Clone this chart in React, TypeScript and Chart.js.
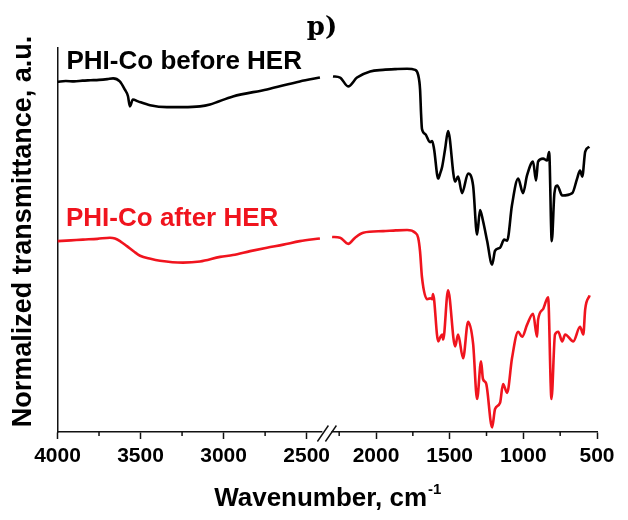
import { useEffect, useRef } from 'react';
import { Chart, registerables } from 'chart.js';

Chart.register(...registerables);

// Axis break: 4000–2375 cm-1 on the left segment, 2330–500 cm-1 on the right
const highRange = [2375, 4000];
const lowRange = [500, 2330];
const highTicks = [4000, 3500, 3000, 2500];
const lowTicks = [2000, 1500, 1000, 500];
const highMinorTicks = [3750, 3250, 2750];
const lowMinorTicks = [2250, 1750, 1250, 750];

// PHI-Co before HER (offset spectrum, a.u.)
const beforeHighWn = [4000, 3950, 3900, 3850, 3800, 3750, 3700, 3665, 3625, 3595, 3576, 3564, 3546, 3515, 3443, 3341, 3245, 3142, 3082, 2944, 2739, 2541, 2420];
const beforeHighT = [91.2, 91.4, 91.3, 91.5, 91.6, 91.7, 91.9, 92.1, 91.3, 89.2, 87.5, 84.8, 86.6, 86.1, 85.1, 84.6, 84.6, 84.8, 85.3, 87.4, 89.2, 91.3, 92.3];
const beforeLowWn = [2292, 2244, 2189, 2129, 2040, 1952, 1865, 1789, 1734, 1714, 1701, 1694, 1688, 1666, 1633, 1619, 1606, 1578, 1565, 1551, 1531, 1511, 1463, 1443, 1416, 1375, 1341, 1314, 1294, 1274, 1246, 1212, 1192, 1158, 1130, 1110, 1077, 1035, 1002, 975, 934, 914, 900, 866, 839, 825, 807, 789, 770, 736, 668, 635, 615, 600, 580, 552];
const beforeLowT = [92.6, 92.3, 90.0, 92.3, 93.9, 94.3, 94.5, 94.6, 94.3, 93.0, 89.2, 82.7, 78.9, 77.6, 75.5, 75.8, 73.7, 66.0, 67.3, 69.1, 73.7, 78.4, 65.2, 66.5, 62.2, 67.3, 64.2, 51.4, 57.8, 55.0, 49.8, 43.6, 47.2, 48.0, 50.1, 49.8, 59.1, 66.0, 62.2, 66.8, 70.4, 65.5, 70.4, 71.2, 70.7, 72.9, 49.7, 62.2, 64.2, 61.6, 62.2, 66.0, 68.1, 66.5, 73.0, 74.3];

// PHI-Co after HER (offset spectrum, a.u.)
const afterHighWn = [4000, 3920, 3847, 3760, 3684, 3654, 3620, 3582, 3540, 3503, 3440, 3383, 3245, 3142, 3021, 2944, 2840, 2739, 2640, 2541, 2420];
const afterHighT = [49.7, 49.9, 50.1, 50.3, 50.6, 50.4, 49.6, 48.4, 47.0, 45.9, 45.1, 44.6, 44.1, 44.4, 45.6, 46.1, 47.1, 48.0, 48.8, 49.7, 50.4];
const afterLowWn = [2298, 2244, 2189, 2142, 2087, 1952, 1865, 1789, 1734, 1714, 1701, 1688, 1653, 1632, 1619, 1613, 1578, 1566, 1551, 1544, 1511, 1463, 1443, 1409, 1375, 1341, 1314, 1287, 1274, 1253, 1212, 1192, 1158, 1138, 1110, 1077, 1035, 1008, 975, 934, 907, 900, 866, 832, 809, 785, 763, 736, 716, 661, 615, 593, 580, 550];
const afterLowT = [50.8, 50.6, 49.0, 50.6, 51.9, 52.3, 52.5, 52.6, 51.9, 50.6, 47.0, 40.3, 34.6, 34.8, 34.6, 35.9, 23.6, 24.5, 25.4, 24.1, 36.9, 22.3, 25.4, 19.2, 28.7, 23.0, 8.6, 18.4, 13.8, 12.7, 1.2, 6.0, 7.6, 12.5, 10.2, 19.2, 26.1, 24.8, 27.9, 30.8, 24.8, 29.2, 32.0, 35.1, 8.6, 25.4, 26.1, 23.6, 25.4, 23.6, 27.4, 25.4, 32.0, 35.6];

const BLACK = '#000000';
const RED = '#f0141e';
const SANS = "'Liberation Sans', Arial, sans-serif";

const toPoints = (wn: number[], t: number[]) => wn.map((w, i) => ({ x: w, y: t[i] }));

const lineSet = (wn: number[], t: number[], color: string, xAxisID: string) => ({
  data: toPoints(wn, t),
  borderColor: color,
  backgroundColor: color,
  borderWidth: 2.6,
  pointRadius: 0,
  cubicInterpolationMode: 'monotone',
  xAxisID,
  yAxisID: 'y',
});

const annotations = {
  id: 'annotations',
  afterDraw(chart: any) {
    const { ctx, chartArea } = chart;
    const xHigh = chart.scales.xHigh;
    const xLow = chart.scales.xLow;
    const axisY = chartArea.bottom;
    ctx.save();

    // minor tick marks
    ctx.strokeStyle = '#111';
    ctx.lineWidth = 1.5;
    ctx.beginPath();
    highMinorTicks.forEach((v) => {
      const px = xHigh.getPixelForValue(v);
      ctx.moveTo(px, axisY);
      ctx.lineTo(px, axisY + 4);
    });
    lowMinorTicks.forEach((v) => {
      const px = xLow.getPixelForValue(v);
      ctx.moveTo(px, axisY);
      ctx.lineTo(px, axisY + 4);
    });
    ctx.stroke();

    // axis break "//"
    const bx = xHigh.right;
    ctx.fillStyle = '#ffffff';
    ctx.fillRect(bx - 5, axisY - 2, 9, 4);
    ctx.beginPath();
    ctx.lineWidth = 1.4;
    ctx.moveTo(bx - 10, axisY + 9.5);
    ctx.lineTo(bx + 1, axisY - 6.5);
    ctx.moveTo(bx - 2, axisY + 9.5);
    ctx.lineTo(bx + 9, axisY - 6.5);
    ctx.stroke();

    // panel label
    ctx.fillStyle = '#000';
    ctx.textAlign = 'center';
    ctx.textBaseline = 'alphabetic';
    ctx.font = "bold 26px 'DejaVu Serif', serif";
    ctx.fillText('p)', 322, 35);

    // series labels
    ctx.textAlign = 'left';
    ctx.font = `bold 26px ${SANS}`;
    ctx.fillStyle = BLACK;
    ctx.fillText('PHI-Co before HER', 66.5, 69);
    ctx.fillStyle = RED;
    ctx.fillText('PHI-Co after HER', 66, 226);

    // x axis title with superscript
    ctx.fillStyle = '#000';
    const main = 'Wavenumber, cm';
    const sup = '-1';
    ctx.font = `bold 26px ${SANS}`;
    const wMain = ctx.measureText(main).width;
    ctx.font = `bold 15px ${SANS}`;
    const wSup = ctx.measureText(sup).width;
    const cx = (chartArea.left + chartArea.right) / 2;
    const startX = cx - (wMain + wSup) / 2;
    ctx.font = `bold 26px ${SANS}`;
    ctx.fillText(main, startX, 506);
    ctx.font = `bold 15px ${SANS}`;
    ctx.fillText(sup, startX + wMain + 1, 494);

    // y axis title
    ctx.translate(31, 231.5);
    ctx.rotate(-Math.PI / 2);
    ctx.textAlign = 'center';
    ctx.font = `bold 27px ${SANS}`;
    ctx.fillText('Normalized transmittance, a.u.', 0, 0);

    ctx.restore();
  },
};

const xAxis = (range: number[], ticks: number[], weight: number, stackWeight: number) => ({
  type: 'linear',
  position: 'bottom',
  stack: 'wavenumber',
  stackWeight,
  weight,
  reverse: true,
  min: range[0],
  max: range[1],
  afterBuildTicks: (scale: any) => {
    scale.ticks = ticks.map((v) => ({ value: v }));
  },
  grid: {
    display: true,
    drawOnChartArea: false,
    drawTicks: true,
    tickLength: 7,
    tickWidth: 1.5,
    tickColor: '#111',
  },
  border: { display: true, color: '#111', width: 1.5 },
  ticks: {
    padding: 5,
    color: '#000',
    maxRotation: 0,
    autoSkip: false,
    font: { family: SANS, size: 21, weight: 'bold' },
    callback: (v: any) => String(v),
  },
});

export default function App() {
  const canvasRef = useRef<HTMLCanvasElement | null>(null);

  useEffect(() => {
    if (!canvasRef.current) return;
    const chart = new Chart(canvasRef.current, {
      type: 'line',
      data: {
        datasets: [
          lineSet(beforeHighWn, beforeHighT, BLACK, 'xHigh'),
          lineSet(beforeLowWn, beforeLowT, BLACK, 'xLow'),
          lineSet(afterHighWn, afterHighT, RED, 'xHigh'),
          lineSet(afterLowWn, afterLowT, RED, 'xLow'),
        ],
      } as any,
      options: {
        responsive: false,
        animation: false,
        devicePixelRatio: 1,
        layout: { padding: { top: 48, left: 57.5, right: 31, bottom: 45.8 } },
        plugins: {
          legend: { display: false },
          tooltip: { enabled: false },
          title: { display: false },
        },
        scales: {
          xHigh: xAxis(highRange, highTicks, 1, 270),
          xLow: xAxis(lowRange, lowTicks, 2, 269.7),
          y: {
            type: 'linear',
            position: 'left',
            min: 0,
            max: 100,
            grid: { display: false, drawTicks: false },
            ticks: { display: false },
            border: { display: true, color: '#111', width: 1.5 },
          },
        } as any,
      },
      plugins: [annotations],
    });
    return () => chart.destroy();
  }, []);

  return (
    <div style={{ position: 'absolute', left: 0, top: 0, width: 628, height: 520, background: '#fff' }}>
      <canvas ref={canvasRef} width={628} height={520} style={{ display: 'block' }} />
    </div>
  );
}
